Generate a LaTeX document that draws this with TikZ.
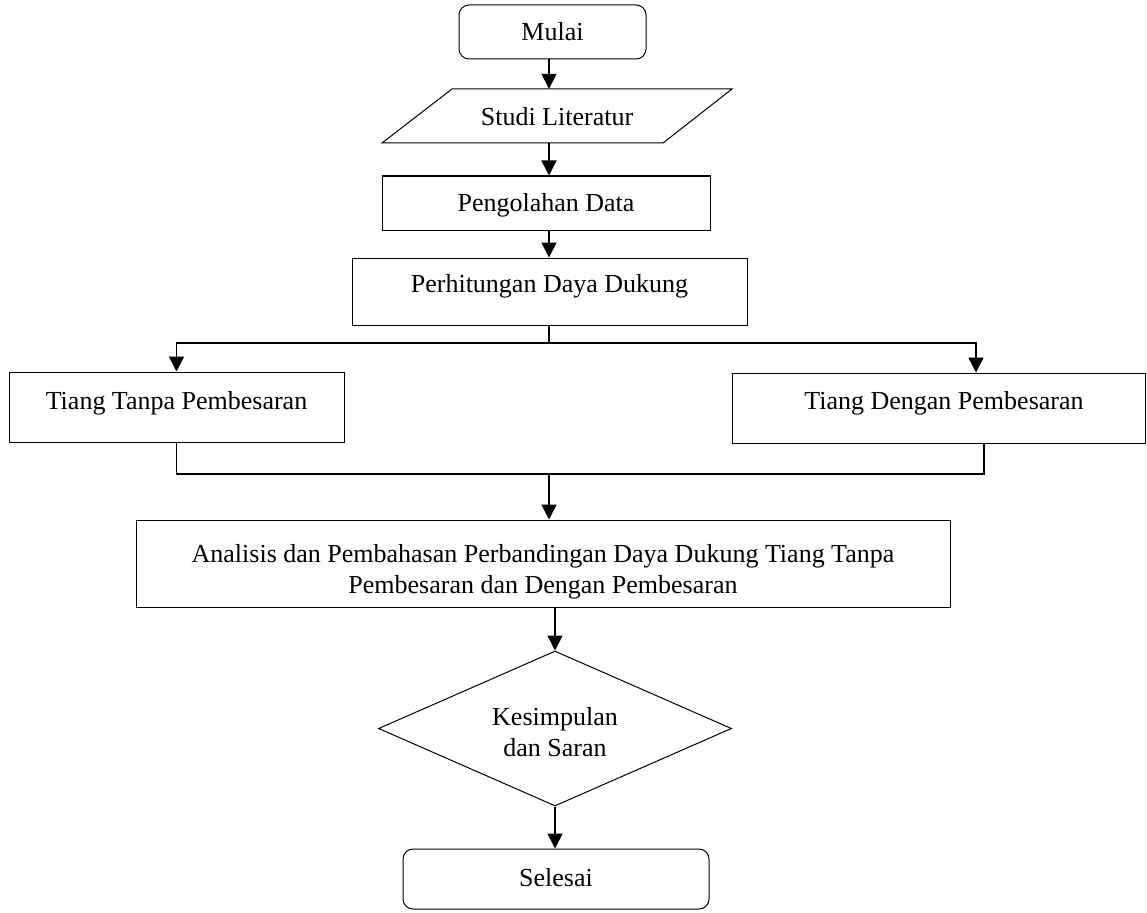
\documentclass[tikz,border=0pt]{standalone}
\usepackage{fontspec}
\setmainfont{Liberation Serif}
\usetikzlibrary{arrows.meta,shapes.geometric}
\begin{document}
\begin{tikzpicture}[x=1pt,y=-1pt,
  box/.style={draw, line width=1pt, inner sep=0pt, rectangle},
  term/.style={box, rounded corners=10pt},
  txt/.style={font=\fontsize{26}{31}\selectfont, align=center, inner sep=0pt},
  conn/.style={line width=1.6pt},
  arr/.style={conn, -{Triangle[width=15pt,length=15pt]}}]
\useasboundingbox (0,0) rectangle (1147,912);
\coordinate (axis) at (549,0);
% nodes
\node[term, minimum width=187pt, minimum height=54pt] (mulai) at (552.5,32) {};
\node[txt] (mulaiT) at (mulai.center) {Mulai};
\draw[line width=1pt] (452,89) -- (732,89) -- (663,143) -- (382,143) -- cycle;
\node[minimum width=280pt, minimum height=54pt, inner sep=0pt] (studi) at (557,116) {};
\node[txt] (studiT) at (557,117) {Studi Literatur};
\node[box, minimum width=328pt, minimum height=54pt] (olah) at (546,203) {};
\node[txt] (olahT) at ([yshift=-2pt]olah.center) {Pengolahan Data};
\node[box, minimum width=395pt, minimum height=67pt] (hit) at (549.5,291.5) {};
\node[txt] (hitT) at ([yshift=5pt]hit.center) {Perhitungan Daya Dukung};
\node[box, minimum width=335pt, minimum height=70pt] (tanpa) at (176.5,407) {};
\node[txt] (tanpaT) at ([yshift=4pt]tanpa.center) {Tiang Tanpa Pembesaran};
\node[box, minimum width=413pt, minimum height=70pt] (dengan) at (938.5,408) {};
\node[txt] (denganT) at (944,403) {Tiang Dengan Pembesaran};
\node[box, minimum width=814pt, minimum height=87pt] (anal) at (543,563.5) {};
\node[txt] (analT) at (543,572) {Analisis dan Pembahasan Perbandingan Daya Dukung Tiang Tanpa\\Pembesaran dan Dengan Pembesaran};
\node[draw, line width=1pt, shape=diamond, aspect=2.28, inner sep=0pt, minimum width=353pt, minimum height=155pt] (dia) at (555,728.5) {};
\node[txt] (diaT) at (555,732) {Kesimpulan\\dan Saran};
\node[term, minimum width=306pt, minimum height=60pt] (selesai) at (556,879) {};
\node[txt] (selesaiT) at (556,878) {Selesai};
% connectors
\draw[arr] (mulai.south -| axis) -- (axis |- studi.north);
\draw[arr] (studi.south -| axis) -- (axis |- olah.north);
\draw[arr] (olah.south -| axis) -- (axis |- hit.north);
\coordinate (split) at (549,343);
\coordinate (dIn) at (976,343);
\draw[conn] (hit.south -| axis) -- (split);
\draw[arr] (split) -| (tanpa.north);
\draw[arr] (split) -- (dIn) -- (dIn |- dengan.north);
\coordinate (merge) at (549,474);
\coordinate (dOut) at (984,474);
\draw[conn] (tanpa.south) |- (merge);
\draw[conn] (dOut |- dengan.south) -- (dOut) -- (merge);
\draw[arr] (merge) -- (merge |- anal.north);
\draw[arr] (anal.south -| dia.north) -- (dia.north);
\draw[arr] (dia.south) -- (dia.south |- selesai.north);
\end{tikzpicture}
\end{document}
